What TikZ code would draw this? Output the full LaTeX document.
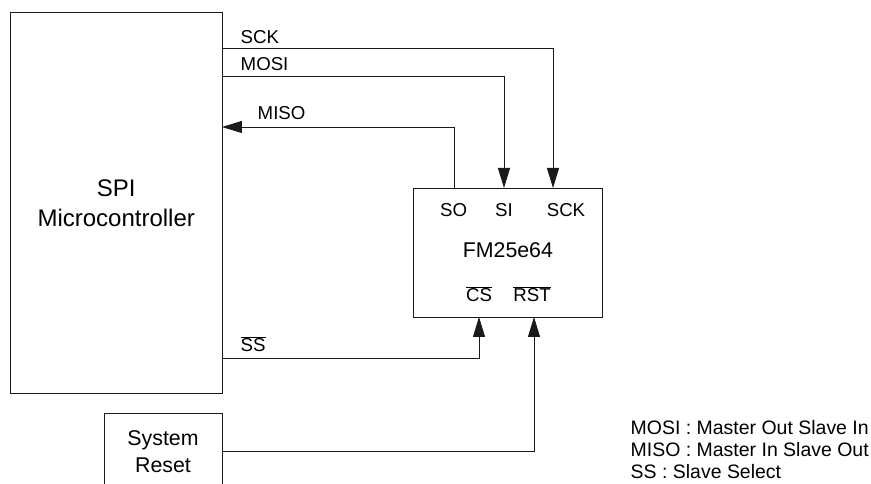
\documentclass[tikz,border=0pt]{standalone}
\usepackage{fontspec}
\setmainfont{Liberation Sans}
\usetikzlibrary{arrows.meta, positioning}
\definecolor{wireGray}{HTML}{1A1A1A}

\begin{document}
\begin{tikzpicture}[x=0.75pt, y=-0.75pt,
    blk/.style={draw=wireGray, line width=0.7pt, inner sep=0pt, outer sep=0pt, align=center},
    pin/.style={anchor=base, font=\fontsize{14}{16}\selectfont},
    lbl/.style={anchor=base west, font=\fontsize{14}{16}\selectfont},
    wire/.style={draw=wireGray, line width=0.7pt},
    sig/.style={wire, -{Triangle[length=15pt, width=9pt]}}]
    \useasboundingbox (0,0) rectangle (871,484);
    % blocks
    \node[blk, minimum width=158.6pt, minimum height=285.4pt, font=\fontsize{18}{22.5}\selectfont] (mcu) at (116.25,202.75) {SPI\\Microcontroller};
    \node[blk, minimum width=141.75pt, minimum height=96.75pt] (fram) at (507.5,252.5) {};
    \node[blk, minimum width=88.5pt, minimum height=57.75pt, font=\fontsize{16}{20.25}\selectfont] (rstsrc) at (163,451.5) {System\\Reset};
    % chip pins
    \node[pin] (so) at (453.7,216.7) {SO};
    \node[pin] (si) at (504,216.7) {SI};
    \node[pin] (sck) at (566,216.7) {SCK};
    \node[pin, font=\fontsize{16}{18}\selectfont] (part) at (507.9,258) {FM25e64};
    \node[pin] (cs) at (479,301.7) {$\overline{\hbox{CS}}$};
    \node[pin] (rst) at (532,301.7) {$\overline{\hbox{RST}}$};
    % wire ends
    \coordinate (sckout) at (mcu.east |- 0,48);
    \coordinate (mosiout) at (mcu.east |- 0,76);
    \coordinate (misoin) at (mcu.east |- 0,127);
    \coordinate (ssout) at (mcu.east |- 0,358);
    \coordinate (sckin) at (fram.north -| 553,0);
    \coordinate (siin) at (fram.north -| si);
    \coordinate (soout) at (fram.north -| 454,0);
    \coordinate (csin) at (fram.south -| cs);
    \coordinate (rstin) at (fram.south -| 534,0);
    % wires
    \draw[sig] (sckout) -| (sckin);
    \draw[sig] (mosiout) -| (siin);
    \draw[sig] (soout) |- (misoin);
    \draw[sig] (ssout) -| (csin);
    \draw[sig] (rstsrc.east) -| (rstin);
    % signal names
    \node[lbl] (lsck) at (236,43.3) {SCK};
    \node[lbl] (lmosi) at (236,71) {MOSI};
    \node[lbl] (lmiso) at (253,120) {MISO};
    \node[lbl] (lss) at (236,351.7) {$\overline{\hbox{SS}}$};
    % legend
    \node[lbl, font=\fontsize{14.6}{16}\selectfont] (leg1) at (626,435) {MOSI : Master Out Slave In};
    \node[lbl, font=\fontsize{14.6}{16}\selectfont] (leg2) at (626,456.7) {MISO : Master In Slave Out};
    \node[lbl, font=\fontsize{14.6}{16}\selectfont] (leg3) at (626,478) {SS : Slave Select};
\end{tikzpicture}
\end{document}
